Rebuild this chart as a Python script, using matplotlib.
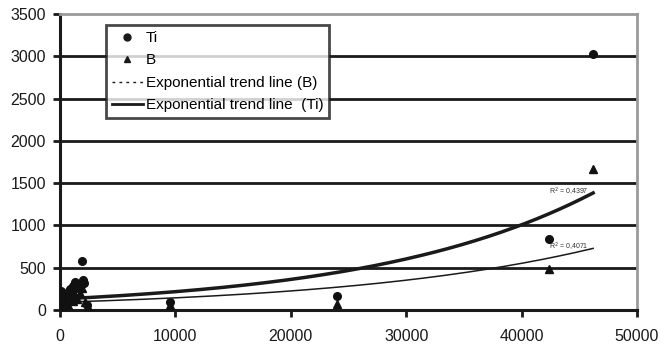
import matplotlib
matplotlib.use('Agg')
import matplotlib.pyplot as plt
import numpy as np
from matplotlib.lines import Line2D

plt.rcParams['font.family'] = ['Liberation Sans', 'DejaVu Sans']

# Ti measurements (circles)
ti_x = [50, 100, 150, 200, 300, 400, 500, 600, 700, 800, 900, 1000, 1100,
        1200, 1300, 1400, 1500, 1800, 1900, 2000, 2100, 2300, 9500, 24000,
        42400, 46200]
ti_y = [230, 150, 200, 120, 180, 100, 140, 160, 190, 220, 250, 200, 280,
        300, 330, 260, 310, 300, 580, 350, 320, 60, 100, 165, 840, 3030]

# B measurements (triangles)
b_x = [50, 100, 200, 300, 400, 500, 700, 900, 1100, 1300, 1500, 1700, 1900,
       2000, 2200, 2400, 9500, 24000, 42400, 46200]
b_y = [100, 60, 80, 40, 120, 90, 60, 150, 110, 180, 130, 200, 260, 360, 90,
       40, 60, 70, 485, 1667]

# exponential trend lines y = a*exp(b*x), coefficients
ti_a, ti_b = 130, 5.12e-5
b_a, b_b = 92, 4.48e-5
trend_end = 46200
r2_ti = 'R$^2$ = 0,4397'
r2_b = 'R$^2$ = 0,4071'


def main():
    fig = plt.figure(figsize=(6.72, 3.45), dpi=100)
    ax = fig.add_axes([0.0893, 0.1014, 0.8586, 0.858])

    for v in [500, 1000, 1500, 2000, 2500, 3000]:
        ax.axhline(v, color='#1a1a1a', lw=2, zorder=1)

    xs = np.linspace(0, trend_end, 200)
    ax.plot(xs, ti_a * np.exp(ti_b * xs), color='#1a1a1a', lw=2.5, zorder=3)
    ax.plot(xs, b_a * np.exp(b_b * xs), color='#1a1a1a', lw=1.1, zorder=3)

    ax.plot(ti_x, ti_y, 'o', color='#111111', ms=5.5, zorder=4)
    ax.plot(b_x, b_y, '^', color='#111111', ms=6, zorder=4)

    ax.text(42400, 1395, r2_ti, fontsize=5, color='#333333', va='center')
    ax.text(42400, 745, r2_b, fontsize=5, color='#333333', va='center')

    ax.set_xlim(0, 50000)
    ax.set_ylim(0, 3500)
    ax.set_xticks(range(0, 50001, 10000))
    ax.set_yticks(range(0, 3501, 500))

    for s in ['left', 'bottom']:
        ax.spines[s].set_color('#1a1a1a')
        ax.spines[s].set_linewidth(2.2)
    for s in ['top', 'right']:
        ax.spines[s].set_color('#9a9a9a')
        ax.spines[s].set_linewidth(2)
    ax.tick_params(axis='both', direction='out', length=5, width=2,
                   color='#1a1a1a', labelsize=11.5, labelcolor='#1a1a1a')
    ax.tick_params(axis='x', pad=9)
    ax.tick_params(axis='y', pad=5)

    handles = [
        Line2D([], [], marker='o', ls='none', color='#1a1a1a', ms=5),
        Line2D([], [], marker='^', ls='none', color='#1a1a1a', ms=5),
        Line2D([], [], ls=(0, (2, 3)), color='#1a1a1a', lw=1),
        Line2D([], [], ls='-', color='#1a1a1a', lw=2),
    ]
    labels = ['Ti', 'B', 'Exponential trend line (B)',
              'Exponential trend line  (Ti)']
    leg = ax.legend(handles, labels, loc='upper left',
                    bbox_to_anchor=(0.0797, 0.963), borderaxespad=0,
                    fontsize=11, frameon=True, fancybox=False,
                    handlelength=2.0, handletextpad=0.2, labelspacing=0.55,
                    borderpad=0.4)
    leg.get_frame().set_edgecolor('#1a1a1a')
    leg.get_frame().set_linewidth(2)
    leg.set_zorder(5)

    fig.savefig('out.png', dpi=100)


if __name__ == '__main__':
    main()
